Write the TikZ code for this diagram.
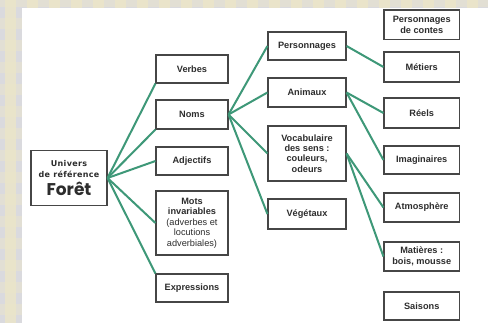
\documentclass[tikz,border=0pt]{standalone}
\usepackage{fontspec}
\setmainfont{Liberation Sans}
\newfontfamily\dejafont{DejaVu Sans}[LetterSpace=4]
\newfontfamily\popfont{Poppins}
\definecolor{bgGrey}{RGB}{218,218,222}
\definecolor{bgBeige}{RGB}{236,230,200}
\definecolor{boxc}{RGB}{70,70,70}
\definecolor{txtc}{RGB}{45,45,45}
\definecolor{linkc}{RGB}{62,152,120}
\newcommand\smalltitle{\dejafont\bfseries\fontsize{8}{9.2}\selectfont}
\newcommand\bigtitle{\popfont\bfseries\fontsize{17}{15}\selectfont}
\newcommand\lite{\mdseries}
\tikzset{
  box/.style={draw=boxc, line width=1.1pt, fill=white, text=txtc, align=center,
    inner sep=1pt, font=\bfseries\fontsize{9.2}{10.4}\selectfont},
  colA/.style={box, minimum width=72pt},
  colB/.style={box, minimum width=78pt},
  colC/.style={box, minimum width=75.5pt},
  conn/.style={draw=linkc, line width=2pt}
}
\begin{document}
\begin{tikzpicture}[x=1pt,y=-1pt]
\useasboundingbox (0,0) rectangle (488,323);
\fill[bgGrey] (0,0) rectangle (488,323);
\foreach \i in {0,...,22} {
  \fill[bgBeige, opacity=0.8] (5+\i*22,0) rectangle ++(11,323);
  \fill[bgBeige, opacity=0.45] (0,-4+\i*22) rectangle ++(488,11);
}
\fill[white] (22,8) rectangle (488,323);
\node[box, minimum width=76pt, minimum height=55pt] (U) at (69,178) {\smalltitle Univers\\\smalltitle de référence\\[3pt]\bigtitle Forêt};
\node[colA, minimum height=28pt] (verbes) at (192,69) {Verbes};
\node[colA, minimum height=29pt] (noms) at (192,114.5) {Noms};
\node[colA, minimum height=28pt] (adj) at (192,161) {Adjectifs};
\node[colA, minimum height=64pt] (mots) at (192,223) {Mots\\invariables\\\lite(adverbes et\\\lite locutions\\\lite adverbiales)};
\node[colA, minimum height=28pt] (expr) at (192,288) {Expressions};
\node[colB, minimum height=28pt] (perso) at (307,46) {Personnages};
\node[colB, minimum height=29pt] (anim) at (307,92.5) {Animaux};
\node[colB, minimum height=55pt] (vocab) at (307,153.5) {Vocabulaire\\des sens :\\couleurs,\\odeurs};
\node[colB, minimum height=30pt] (veget) at (307,214) {Végétaux};
\node[colC, minimum height=29.5pt] (contes) at (421.75,24.75) {Personnages\\de contes};
\node[colC, minimum height=30pt] (metiers) at (421.75,67) {Métiers};
\node[colC, minimum height=30pt] (reels) at (421.75,113) {Réels};
\node[colC, minimum height=28pt] (imag) at (421.75,160) {Imaginaires};
\node[colC, minimum height=29pt] (atmo) at (421.75,207.5) {Atmosphère};
\node[colC, minimum height=29pt] (mat) at (421.75,256.5) {Matières :\\bois, mousse};
\node[colC, minimum height=28pt] (sais) at (421.75,306) {Saisons};
\draw[conn] (U.east) -- (verbes.south west);
\draw[conn] (U.east) -- (noms.south west);
\draw[conn] (U.east) -- (adj.west);
\draw[conn] (U.east) -- (mots.west);
\draw[conn] (U.east) -- (expr.north west);
\draw[conn] (noms.east) -- (perso.west);
\draw[conn] (noms.east) -- (anim.west);
\draw[conn] (noms.east) -- (vocab.west);
\draw[conn] (noms.east) -- (veget.west);
\draw[conn] (perso.east) -- (metiers.west);
\draw[conn] (anim.east) -- (reels.west);
\draw[conn] (anim.east) -- (imag.west);
\draw[conn] (vocab.east) -- (atmo.west);
\draw[conn] (vocab.east) -- (mat.west);
\end{tikzpicture}
\end{document}
